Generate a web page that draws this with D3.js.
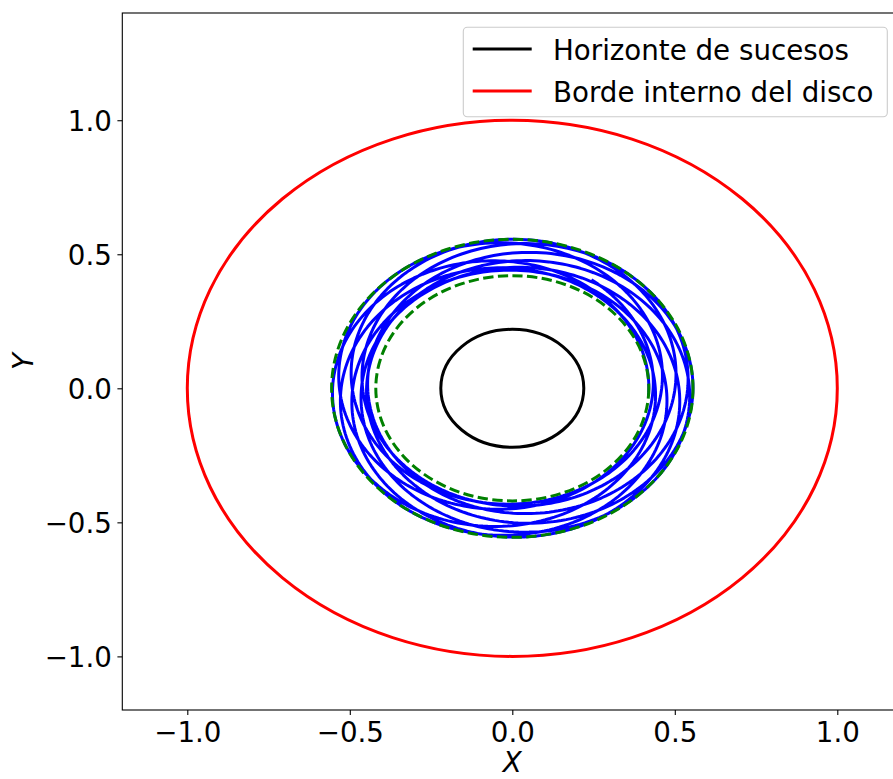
<!doctype html>
<html>
<head>
  <meta charset="utf-8">
  <title>Orbita alrededor del agujero negro</title>
  <style>
  body { margin: 0; background: #fff; }
  svg { display: block; font-family: "DejaVu Sans", sans-serif; }
  </style>
</head>
<body>
  <div id="vis"></div>

  <script src="https://d3js.org/d3.v7.min.js"></script>
  <script>
  // valores
  var xTicks = [-1.0, -0.5, 0.0, 0.5, 1.0];
  var yTicks = [-1.0, -0.5, 0.0, 0.5, 1.0];
  var horizonRadius = 0.22;
  var diskInnerRadius = 1.0;
  var orbitRadii = [0.42, 0.556];          // lineas verdes discontinuas
  // direccion (grados) y radio del periastro en cada vuelta, y angulo final
  var periapsisAngles = [-4, 37, 80, 121, 164, 203, 247, 288, 330];
  var periapsisRadii = [0.42, 0.432, 0.44, 0.446, 0.447, 0.442, 0.436, 0.43, 0.428];
  var apoapsisRadius = 0.556;
  var endAngle = 59;
  var legendLabels = ['Horizonte de sucesos', 'Borde interno del disco'];
  var legendColors = ['#000000', '#ff0000'];

  var width = 893;
  var height = 779;
  var fontSize = 27.7;
  var lw = 3;

  var x = d3.scaleLinear().domain([-1.2, 1.2]).range([122.3, 902.3]);
  var y = d3.scaleLinear().domain([-1.2, 1.4]).range([710, 13]);

  var svg = d3.select('#vis')
    .append('svg')
    .attr('width', width)
    .attr('height', height);

  svg.append('clipPath').attr('id', 'clip')
    .append('rect')
    .attr('x', x(-1.2)).attr('y', y(1.4))
    .attr('width', x(1.2) - x(-1.2)).attr('height', y(-1.2) - y(1.4));

  var plot = svg.append('g').attr('clip-path', 'url(#clip)');

  // trayectoria: vueltas entre periastro y apoastro, con precesion
  function conic(rp, th){
    var ra = apoapsisRadius;
    var e = (ra - rp) / (ra + rp);
    var p = 2 * ra * rp / (ra + rp);
    return p / (1 + e * Math.cos(th));
  }
  var pts = [];
  function addTurn(start, span, stop, rpA, rpB){
    var n = 240;
    for(var k = 0; k <= n; k++){
      var phi = start + (stop - start) * k / n;
      var th = 2 * Math.PI * (phi - start) / span;
      var r = conic(th < Math.PI ? rpA : rpB, th);
      var a = phi * Math.PI / 180;
      pts.push([r * Math.cos(a), r * Math.sin(a)]);
    }
  }
  var lastSpan = 360;
  periapsisAngles.forEach(function(w, i){
    var start = w + 360 * i;
    if(i < periapsisAngles.length - 1){
      var end = periapsisAngles[i + 1] + 360 * (i + 1);
      lastSpan = end - start;
      addTurn(start, lastSpan, end, periapsisRadii[i], periapsisRadii[i + 1]);
    } else {
      var stop = endAngle + 360 * (i + 1);
      addTurn(start, lastSpan, stop, periapsisRadii[i], periapsisRadii[i]);
    }
  });

  var line = d3.line()
    .x(function(d){ return x(d[0]); })
    .y(function(d){ return y(d[1]); });

  plot.append('path')
    .datum(pts)
    .attr('d', line)
    .attr('fill', 'none')
    .attr('stroke', '#0000ff')
    .attr('stroke-width', lw)
    .attr('stroke-linejoin', 'round');

  // circulos en coordenadas de datos
  function circle(r, color, dash){
    var c = plot.append('ellipse')
      .attr('cx', x(0)).attr('cy', y(0))
      .attr('rx', x(r) - x(0)).attr('ry', y(0) - y(r))
      .attr('fill', 'none')
      .attr('stroke', color)
      .attr('stroke-width', lw);
    if(dash) c.attr('stroke-dasharray', dash);
  }
  circle(orbitRadii[0], '#008000', '10.3,4.4');
  circle(orbitRadii[1], '#008000', '10.3,4.4');
  circle(horizonRadius, legendColors[0]);
  circle(diskInnerRadius, legendColors[1]);

  // ejes
  var fmt = d3.format('.1f');
  var xAxis = svg.append('g')
    .attr('transform', 'translate(0,' + y(-1.2) + ')')
    .call(d3.axisBottom(x).tickValues(xTicks).tickFormat(fmt)
      .tickSize(4.9).tickPadding(7).tickSizeOuter(0));
  var yAxis = svg.append('g')
    .attr('transform', 'translate(' + x(-1.2) + ',0)')
    .call(d3.axisLeft(y).tickValues(yTicks).tickFormat(fmt)
      .tickSize(4.9).tickPadding(5.5).tickSizeOuter(0));
  [xAxis, yAxis].forEach(function(ax){
    ax.select('.domain').remove();
    ax.selectAll('line').attr('stroke', '#000').attr('stroke-width', 1.1);
    ax.selectAll('text')
      .attr('fill', '#000')
      .style('font-family', '"DejaVu Sans", sans-serif')
      .style('font-size', fontSize + 'px');
  });
  yAxis.selectAll('text').attr('dy', '0.36em');

  svg.append('rect')
    .attr('x', x(-1.2)).attr('y', y(1.4))
    .attr('width', x(1.2) - x(-1.2)).attr('height', y(-1.2) - y(1.4))
    .attr('fill', 'none')
    .attr('stroke', '#000')
    .attr('stroke-width', 1.1);

  svg.append('text')
    .attr('x', (x(-1.2) + x(1.2)) / 2)
    .attr('y', 772)
    .attr('text-anchor', 'middle')
    .style('font-size', fontSize + 'px')
    .style('font-style', 'italic')
    .text('X');

  svg.append('text')
    .attr('transform', 'translate(33,' + (y(-1.2) + y(1.4)) / 2 + ') rotate(-90)')
    .attr('text-anchor', 'middle')
    .style('font-size', fontSize + 'px')
    .style('font-style', 'italic')
    .text('Y');

  // leyenda
  var legend = svg.append('g');
  legend.append('rect')
    .attr('x', 463.3).attr('y', 27.3)
    .attr('width', 424).attr('height', 89.4)
    .attr('rx', 4).attr('ry', 4)
    .attr('fill', '#fff').attr('fill-opacity', 0.8)
    .attr('stroke', '#cccccc').attr('stroke-width', 1.1);

  legendLabels.forEach(function(label, i){
    var cy = 49 + i * 42;
    legend.append('line')
      .attr('x1', 472.7).attr('x2', 531.7)
      .attr('y1', cy).attr('y2', cy)
      .attr('stroke', legendColors[i])
      .attr('stroke-width', lw);
    legend.append('text')
      .attr('x', 553)
      .attr('y', cy + 10.5)
      .style('font-size', fontSize + 'px')
      .attr('fill', '#000')
      .text(label);
  });
  </script>
</body>
</html>
